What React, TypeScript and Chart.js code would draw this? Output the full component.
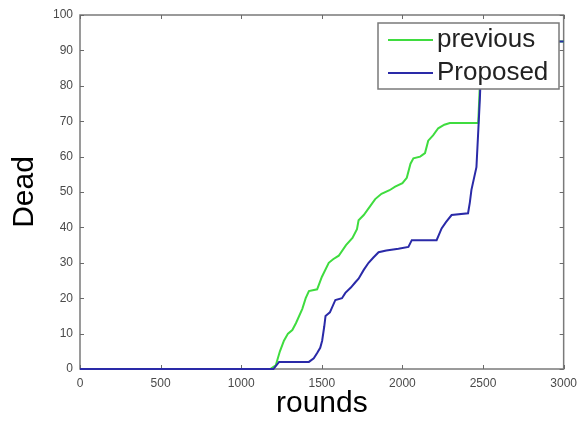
import React, { useEffect, useRef } from "react";
import { Chart, registerables } from "chart.js";

Chart.register(...registerables);

const xTickValues = [0, 500, 1000, 1500, 2000, 2500, 3000];
const yTickValues = [0, 10, 20, 30, 40, 50, 60, 70, 80, 90, 100];

const seriesLabels = ["previous", "Proposed"];

const previousRounds = [0, 1180, 1214, 1240, 1265, 1290, 1317, 1340, 1379, 1400, 1420, 1471, 1500, 1543, 1570, 1605, 1650, 1690, 1718, 1728, 1760, 1800, 1831, 1870, 1920, 1955, 2000, 2027, 2050, 2068, 2110, 2140, 2160, 2190, 2222, 2260, 2294, 2470, 2480, 2490, 3000];
const previousDead = [0, 0, 1, 5, 8, 10, 11, 13, 17, 20, 22, 22.5, 26, 30, 31, 32, 35, 37, 39.5, 42, 43.5, 46, 48, 49.5, 50.5, 51.5, 52.5, 54, 58, 59.5, 60, 61, 64.5, 66, 68, 69, 69.5, 69.5, 80, 92.5, 92.5];

const proposedRounds = [0, 1200, 1235, 1420, 1450, 1471, 1490, 1502, 1515, 1523, 1550, 1584, 1625, 1646, 1680, 1708, 1728, 1760, 1790, 1820, 1852, 1900, 1975, 2037, 2058, 2212, 2243, 2270, 2305, 2407, 2418, 2428, 2459, 2480, 2494, 3000];
const proposedDead = [0, 0, 2, 2, 3, 4.5, 6, 8, 12, 15, 16, 19.5, 20, 21.5, 23, 24.5, 25.5, 28, 30, 31.5, 33, 33.5, 34, 34.5, 36.4, 36.4, 39.7, 41.5, 43.5, 44, 47, 50.6, 57, 76, 92.5, 92.5];

const seriesColors = ["#3fdc3f", "#2a2aa8"];

const FONT = "'Liberation Sans', Arial, sans-serif";

const framePlugin = {
  id: "frame",
  beforeDatasetsDraw(chart: any) {
    const { ctx, chartArea: a, scales } = chart;
    ctx.save();
    ctx.strokeStyle = "#7a7a7a";
    ctx.lineWidth = 1.5;
    ctx.strokeRect(a.left, a.top, a.right - a.left, a.bottom - a.top);
    ctx.lineWidth = 1;
    ctx.strokeStyle = "#6a6a6a";
    const t = 4;
    ctx.beginPath();
    for (const v of xTickValues) {
      const x = Math.round(scales.x.getPixelForValue(v)) + 0.5;
      ctx.moveTo(x, a.bottom);
      ctx.lineTo(x, a.bottom - t);
      ctx.moveTo(x, a.top);
      ctx.lineTo(x, a.top + t);
    }
    for (const v of yTickValues) {
      const y = Math.round(scales.y.getPixelForValue(v)) + 0.5;
      ctx.moveTo(a.left, y);
      ctx.lineTo(a.left + t, y);
      ctx.moveTo(a.right, y);
      ctx.lineTo(a.right - t, y);
    }
    ctx.stroke();
    ctx.restore();
  },
};

const legendPlugin = {
  id: "boxLegend",
  afterDatasetsDraw(chart: any) {
    const { ctx } = chart;
    const left = 378, top = 23, w = 181, h = 66;
    ctx.save();
    ctx.fillStyle = "#ffffff";
    ctx.fillRect(left, top, w, h);
    ctx.strokeStyle = "#7a7a7a";
    ctx.lineWidth = 1.5;
    ctx.strokeRect(left, top, w, h);
    ctx.font = `26px ${FONT}`;
    ctx.textBaseline = "middle";
    ctx.textAlign = "left";
    chart.data.datasets.forEach((ds: any, i: number) => {
      const y = top + 17 + i * 33;
      ctx.strokeStyle = ds.borderColor;
      ctx.lineWidth = 2;
      ctx.beginPath();
      ctx.moveTo(left + 10, y);
      ctx.lineTo(left + 55, y);
      ctx.stroke();
      ctx.fillStyle = "#222222";
      ctx.fillText(ds.label, left + 59, y);
    });
    ctx.restore();
  },
};

export default function App() {
  const ref = useRef<HTMLCanvasElement | null>(null);
  useEffect(() => {
    document.body.style.margin = "0";
    if (!ref.current) return;
    const chart = new Chart(ref.current, {
      type: "line",
      data: {
        datasets: [
          {
            label: seriesLabels[0],
            data: previousRounds.map((x, i) => ({ x, y: previousDead[i] })),
            borderColor: seriesColors[0],
            borderWidth: 2,
            pointRadius: 0,
            fill: false,
            tension: 0,
            clip: false as any,
            order: 1,
          },
          {
            label: seriesLabels[1],
            data: proposedRounds.map((x, i) => ({ x, y: proposedDead[i] })),
            borderColor: seriesColors[1],
            borderWidth: 2,
            pointRadius: 0,
            fill: false,
            tension: 0,
            clip: false as any,
            order: 0,
          },
        ],
      },
      options: {
        animation: false,
        responsive: false,
        devicePixelRatio: 1,
        layout: { padding: { top: 15, right: 18, left: 0, bottom: 0 } },
        plugins: { legend: { display: false }, tooltip: { enabled: false } },
        scales: {
          x: {
            type: "linear",
            min: 0,
            max: 3000,
            afterBuildTicks: (s: any) => {
              s.ticks = xTickValues.map((v) => ({ value: v }));
            },
            afterFit: (s: any) => {
              s.height = 53;
            },
            grid: { display: false, drawTicks: false },
            border: { display: false },
            ticks: {
              color: "#4a4a4a",
              font: { family: FONT, size: 12 },
              padding: 7,
              maxRotation: 0,
              autoSkip: false,
              callback: (v: any) => String(v),
            },
            title: {
              display: true,
              text: "rounds",
              color: "#000000",
              font: { family: FONT, size: 30 },
              padding: { top: 0, bottom: 0 },
            },
          },
          y: {
            type: "linear",
            min: 0,
            max: 100,
            afterBuildTicks: (s: any) => {
              s.ticks = yTickValues.map((v) => ({ value: v }));
            },
            afterFit: (s: any) => {
              s.width = 80;
            },
            grid: { display: false, drawTicks: false },
            border: { display: false },
            ticks: {
              color: "#4a4a4a",
              font: { family: FONT, size: 12 },
              padding: 7,
              autoSkip: false,
              callback: (v: any) => String(v),
            },
            title: {
              display: true,
              text: "Dead",
              color: "#000000",
              font: { family: FONT, size: 30 },
              padding: { top: 7, bottom: 0 },
            },
          },
        },
      },
      plugins: [framePlugin, legendPlugin],
    });
    return () => chart.destroy();
  }, []);
  return (
    <div style={{ position: "absolute", left: 0, top: 0, width: 584, height: 422, background: "#fff" }}>
      <canvas ref={ref} width={584} height={422} />
    </div>
  );
}
